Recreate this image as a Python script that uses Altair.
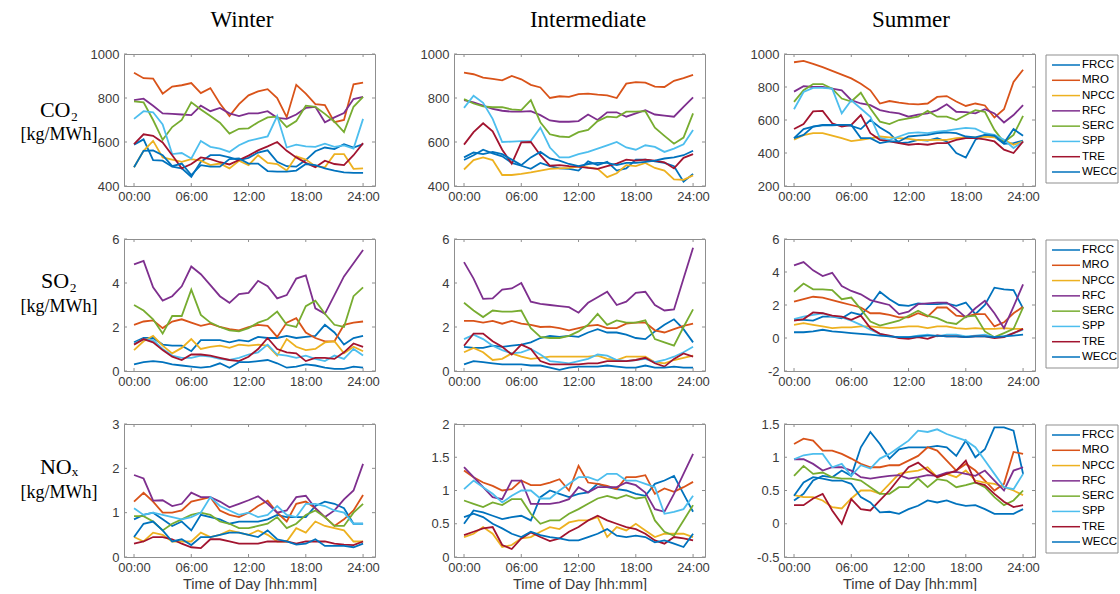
import altair as alt
import pandas as pd

# ---------------------------------------------------------------- data
REGIONS = ["FRCC", "MRO", "NPCC", "RFC", "SERC", "SPP", "TRE", "WECC"]
COLORS = ["#0072BD", "#D95319", "#EDB120", "#7E2F8E",
          "#77AC30", "#4DBEEE", "#A2142F", "#0072BD"]
HOURS = list(range(25))
TICK_HOURS = [0, 6, 12, 18, 24]
SEASONS = ["Winter", "Intermediate", "Summer"]
POLLUTANTS = ["CO₂", "SO₂", "NOₓ"]
UNIT = "[kg/MWh]"

CO2_WINTER = {
    "FRCC": [588, 612, 518, 515, 488, 480, 442, 510, 540, 540, 530, 518, 528, 552, 562, 510, 490, 488, 518, 558, 575, 568, 590, 575, 590],
    "MRO":  [915, 890, 888, 820, 852, 858, 868, 822, 845, 775, 718, 772, 812, 830, 840, 800, 713, 860, 820, 772, 768, 690, 700, 862, 870],
    "NPCC": [485, 560, 605, 530, 520, 510, 522, 515, 495, 502, 480, 515, 495, 540, 505, 500, 470, 535, 520, 490, 485, 545, 545, 478, 480],
    "RFC":  [790, 797, 765, 730, 728, 725, 722, 765, 740, 755, 730, 718, 730, 730, 740, 710, 705, 725, 755, 760, 690, 712, 732, 795, 805],
    "SERC": [785, 780, 700, 610, 668, 700, 780, 748, 718, 688, 638, 660, 662, 690, 712, 715, 668, 695, 765, 760, 728, 692, 645, 760, 805],
    "SPP":  [705, 740, 735, 680, 545, 550, 525, 605, 578, 570, 555, 585, 605, 615, 625, 718, 575, 588, 580, 578, 592, 578, 585, 570, 705],
    "TRE":  [590, 635, 628, 598, 540, 480, 500, 530, 522, 508, 498, 518, 538, 562, 580, 600, 560, 530, 505, 485, 515, 500, 495, 540, 595],
    "WECC": [485, 560, 562, 540, 490, 502, 450, 495, 488, 488, 522, 525, 502, 502, 468, 465, 465, 470, 500, 495, 480, 470, 462, 460, 460],
}
CO2_INTER = {
    "FRCC": [518, 540, 565, 548, 535, 505, 492, 478, 505, 490, 480, 478, 470, 512, 495, 510, 470, 480, 520, 520, 512, 505, 490, 420, 455],
    "MRO":  [915, 908, 893, 887, 880, 900, 885, 860, 848, 800, 808, 805, 818, 820, 815, 812, 800, 865, 872, 870, 852, 850, 878, 890, 905],
    "NPCC": [475, 518, 530, 518, 450, 450, 455, 462, 470, 478, 480, 482, 488, 485, 478, 440, 458, 495, 490, 505, 482, 470, 430, 428, 448],
    "RFC":  [790, 780, 765, 750, 742, 738, 738, 740, 722, 698, 692, 692, 695, 725, 700, 735, 735, 715, 730, 745, 725, 720, 715, 760, 803],
    "SERC": [795, 775, 762, 758, 758, 748, 745, 790, 690, 635, 625, 622, 645, 655, 695, 715, 712, 738, 738, 740, 665, 628, 592, 620, 730],
    "SPP":  [755, 810, 778, 705, 600, 602, 604, 605, 665, 575, 530, 530, 545, 555, 570, 585, 600, 575, 565, 585, 578, 555, 570, 590, 655],
    "TRE":  [588, 645, 685, 648, 565, 502, 598, 600, 540, 492, 495, 490, 488, 482, 478, 490, 502, 520, 515, 520, 515, 508, 480, 528, 545],
    "WECC": [530, 552, 545, 555, 545, 520, 495, 530, 555, 525, 515, 500, 490, 500, 505, 505, 495, 505, 505, 510, 515, 525, 530, 540, 560],
}
CO2_SUMMER = {
    "FRCC": [490, 545, 560, 568, 568, 570, 565, 545, 600, 555, 520, 460, 465, 480, 475, 490, 470, 400, 372, 480, 510, 500, 455, 460, 475],
    "MRO":  [950, 958, 940, 920, 898, 875, 852, 820, 780, 700, 715, 705, 698, 695, 700, 740, 745, 712, 685, 700, 688, 615, 665, 830, 905],
    "NPCC": [480, 508, 520, 520, 505, 490, 472, 480, 488, 500, 495, 490, 485, 478, 478, 480, 480, 490, 495, 495, 500, 495, 480, 450, 470],
    "RFC":  [772, 805, 800, 800, 790, 780, 720, 700, 690, 660, 648, 640, 620, 632, 640, 660, 695, 650, 648, 640, 665, 640, 585, 630, 690],
    "SERC": [710, 780, 818, 818, 790, 730, 712, 765, 670, 590, 575, 600, 610, 620, 655, 620, 620, 600, 630, 660, 650, 540, 465, 510, 625],
    "SPP":  [665, 770, 795, 795, 790, 640, 720, 670, 620, 490, 480, 500, 520, 525, 520, 530, 535, 545, 552, 548, 520, 510, 480, 430, 470],
    "TRE":  [545, 575, 652, 655, 580, 560, 570, 630, 520, 480, 470, 460, 450, 455, 450, 460, 460, 480, 490, 490, 482, 470, 420, 400, 470],
    "WECC": [490, 510, 560, 570, 570, 570, 570, 490, 490, 460, 470, 470, 500, 505, 510, 520, 525, 520, 500, 495, 510, 505, 460, 545, 505],
}

SO2_WINTER = {
    "FRCC": [1.3, 1.5, 1.5, 1.2, 1.15, 1.15, 0.9, 1.4, 1.4, 1.4, 1.3, 1.4, 1.35, 1.55, 1.5, 1.5, 1.6, 1.5, 1.55, 1.6, 2.1, 1.75, 1.2, 1.5, 1.6],
    "MRO":  [2.1, 2.25, 2.3, 1.95, 2.25, 2.35, 2.2, 2.05, 2.15, 2.0, 1.9, 1.85, 2.0, 2.1, 2.05, 1.55, 2.2, 2.4, 1.75, 1.5, 1.35, 1.35, 2.1, 2.2, 2.25],
    "NPCC": [0.95, 1.35, 1.6, 1.15, 0.8, 1.05, 1.45, 1.0, 1.1, 1.15, 1.05, 1.2, 1.15, 1.2, 1.15, 0.7, 1.45, 1.1, 0.95, 1.0, 1.3, 1.35, 0.8, 1.1, 0.9],
    "RFC":  [4.85, 5.0, 3.8, 3.2, 3.4, 3.85, 4.75, 4.4, 3.9, 3.4, 3.1, 3.5, 3.55, 4.1, 3.85, 3.3, 3.45, 4.2, 4.35, 2.85, 2.6, 3.45, 4.3, 4.9, 5.5],
    "SERC": [3.0, 2.75, 2.35, 1.7, 2.5, 2.5, 3.7, 2.55, 2.2, 2.0, 1.85, 1.8, 1.95, 2.2, 2.35, 2.7, 2.1, 2.0, 2.95, 3.2, 2.6, 2.1, 2.0, 3.4, 3.8],
    "SPP":  [1.25, 1.45, 1.4, 1.0, 0.7, 0.6, 0.6, 0.7, 0.65, 0.55, 0.5, 0.6, 0.75, 0.85, 1.2, 0.75, 0.7, 0.6, 0.7, 0.55, 0.45, 0.7, 0.55, 1.0, 0.7],
    "TRE":  [1.2, 1.45, 1.3, 0.95, 0.65, 0.5, 0.75, 0.75, 0.7, 0.6, 0.5, 0.45, 0.65, 1.0, 1.5, 1.0, 0.85, 0.8, 0.45, 0.6, 0.6, 0.55, 0.85, 1.25, 1.1],
    "WECC": [0.3, 0.4, 0.45, 0.4, 0.3, 0.25, 0.2, 0.15, 0.2, 0.35, 0.15, 0.4, 0.4, 0.45, 0.5, 0.35, 0.15, 0.2, 0.3, 0.25, 0.15, 0.1, 0.1, 0.2, 0.15],
}
SO2_INTER = {
    "FRCC": [1.1, 1.05, 1.05, 1.15, 1.1, 1.15, 1.2, 1.3, 1.5, 1.6, 1.55, 1.6, 1.55, 1.75, 1.9, 1.75, 1.75, 1.65, 1.5, 1.45, 1.8, 2.1, 2.35, 1.9, 1.3],
    "MRO":  [2.28, 2.28, 2.2, 2.28, 2.15, 2.28, 2.15, 2.1, 2.0, 2.02, 1.95, 1.85, 1.95, 2.05, 2.1, 1.95, 1.95, 2.15, 2.2, 2.2, 1.85, 1.75, 1.9, 2.05, 2.15],
    "NPCC": [0.85, 1.05, 0.85, 0.5, 0.55, 0.8, 0.65, 0.55, 0.6, 0.65, 0.65, 0.65, 0.65, 0.65, 0.7, 0.55, 0.5, 0.65, 0.65, 0.65, 0.4, 0.35, 0.5, 0.6, 0.7],
    "RFC":  [4.95, 4.2, 3.28, 3.3, 3.7, 3.75, 4.0, 3.15, 3.05, 3.0, 2.95, 2.9, 2.65, 3.1, 3.35, 3.6, 3.0, 3.15, 3.55, 3.6, 3.0, 2.75, 2.8, 4.2, 5.6],
    "SERC": [3.1, 2.75, 2.45, 2.75, 2.7, 2.7, 2.75, 1.95, 1.55, 1.5, 1.5, 1.6, 1.8, 2.1, 2.6, 2.1, 2.3, 2.2, 2.2, 2.3, 1.45, 1.3, 1.15, 2.0, 2.8],
    "SPP":  [1.45, 1.65, 1.45, 1.15, 0.95, 0.8, 0.85, 1.0, 0.75, 0.45, 0.4, 0.35, 0.45, 0.55, 0.75, 0.7, 0.5, 0.45, 0.5, 0.55, 0.4, 0.5, 0.65, 0.85, 1.1],
    "TRE":  [1.15, 1.7, 1.7, 1.35, 1.1, 0.75, 1.2, 1.0, 0.45, 0.3, 0.3, 0.3, 0.3, 0.35, 0.35, 0.45, 0.45, 0.45, 0.5, 0.6, 0.35, 0.2, 0.55, 0.8, 0.65],
    "WECC": [0.3, 0.45, 0.4, 0.35, 0.3, 0.3, 0.3, 0.25, 0.25, 0.15, 0.05, 0.15, 0.2, 0.2, 0.2, 0.25, 0.2, 0.15, 0.15, 0.25, 0.15, 0.15, 0.2, 0.15, 0.15],
}
SO2_SUMMER = {
    "FRCC": [1.1, 1.1, 1.05, 1.3, 1.3, 1.2, 1.55, 1.4, 2.0, 2.8, 2.35, 2.0, 1.95, 2.1, 2.05, 2.05, 2.1, 1.95, 2.15, 1.45, 2.0, 3.05, 2.95, 2.9, 1.8],
    "MRO":  [2.2, 2.35, 2.5, 2.45, 2.3, 2.15, 2.0, 1.85, 1.5, 1.5, 1.4, 1.25, 1.25, 1.5, 1.3, 1.85, 1.85, 1.35, 1.3, 1.45, 1.45, 0.7, 0.95, 1.5, 1.9],
    "NPCC": [0.8, 0.9, 0.8, 0.7, 0.6, 0.65, 0.65, 0.7, 0.7, 0.65, 0.6, 0.65, 0.7, 0.7, 0.6, 0.7, 0.7, 0.6, 0.55, 0.6, 0.55, 0.55, 0.6, 0.55, 0.55],
    "RFC":  [4.4, 4.6, 4.1, 3.75, 3.95, 3.15, 2.85, 2.65, 2.3, 2.15, 2.0, 1.45, 1.6, 2.05, 2.1, 2.15, 2.15, 1.75, 1.25, 1.8, 2.25, 1.5, 0.6, 1.9, 3.25],
    "SERC": [2.8, 3.3, 2.95, 2.95, 2.9, 2.35, 2.45, 1.75, 1.0, 0.75, 0.9, 1.05, 1.35, 1.65, 1.35, 1.2, 0.95, 0.85, 1.3, 1.35, 0.4, 0.05, 0.3, 0.55, 1.85],
    "SPP":  [1.15, 1.3, 1.4, 1.5, 1.3, 1.25, 1.05, 0.8, 0.5, 0.25, 0.1, 0.05, 0.05, 0.15, 0.2, 0.1, 0.2, 0.2, 0.1, 0.15, 0.2, 0.05, 0.1, 0.3, 0.5],
    "TRE":  [1.05, 1.15, 1.55, 1.5, 1.35, 1.3, 1.1, 1.35, 0.6, 0.25, 0.15, 0.0, -0.05, 0.05, -0.05, 0.15, 0.1, 0.1, 0.05, 0.1, 0.1, 0.0, 0.05, 0.3, 0.55],
    "WECC": [0.35, 0.35, 0.4, 0.5, 0.4, 0.35, 0.3, 0.25, 0.2, 0.15, 0.1, 0.05, 0.05, 0.1, 0.15, 0.15, 0.1, 0.1, 0.05, 0.1, 0.1, 0.05, 0.1, 0.15, 0.2],
}

NOX_WINTER = {
    "FRCC": [0.85, 0.95, 1.0, 0.85, 0.7, 0.8, 0.6, 0.95, 0.9, 0.85, 0.75, 0.8, 0.8, 0.8, 0.85, 0.95, 0.9, 0.9, 0.9, 1.15, 1.25, 1.2, 1.1, 0.75, 0.75],
    "MRO":  [1.25, 1.45, 1.25, 1.0, 1.0, 1.05, 1.25, 1.3, 1.35, 1.05, 0.95, 0.9, 1.0, 1.15, 1.27, 1.0, 0.8, 1.2, 1.25, 1.1, 0.9, 0.7, 0.85, 1.05, 1.4],
    "NPCC": [0.45, 0.35, 0.55, 0.5, 0.35, 0.35, 0.35, 0.55, 0.45, 0.5, 0.6, 0.55, 0.5, 0.6, 0.5, 0.35, 0.35, 0.65, 0.55, 0.8, 0.7, 0.65, 0.6, 0.35, 0.35],
    "RFC":  [1.85, 1.77, 1.27, 1.28, 1.15, 1.2, 1.45, 1.35, 1.35, 1.25, 1.12, 1.2, 1.28, 1.37, 1.2, 1.0, 1.05, 1.35, 1.38, 1.1, 0.9, 1.05, 1.3, 1.5, 2.1],
    "SERC": [0.92, 0.92, 0.8, 0.6, 0.75, 0.85, 0.95, 1.0, 0.95, 0.8, 0.75, 0.65, 0.65, 0.7, 0.75, 0.9, 0.65, 0.75, 0.95, 1.05, 0.9, 0.7, 0.7, 1.0, 1.2],
    "SPP":  [1.1, 0.95, 1.0, 0.95, 0.9, 0.85, 0.9, 1.0, 1.35, 1.15, 1.05, 0.95, 1.0, 0.9, 0.95, 1.15, 0.95, 0.9, 1.2, 1.2, 1.15, 1.05, 1.0, 0.75, 0.75],
    "TRE":  [0.3, 0.35, 0.45, 0.45, 0.4, 0.3, 0.22, 0.2, 0.4, 0.4, 0.35, 0.3, 0.3, 0.3, 0.35, 0.35, 0.35, 0.3, 0.35, 0.35, 0.35, 0.3, 0.28, 0.27, 0.35],
    "WECC": [0.45, 0.75, 0.8, 0.6, 0.35, 0.4, 0.27, 0.45, 0.45, 0.5, 0.55, 0.55, 0.5, 0.45, 0.6, 0.4, 0.35, 0.28, 0.3, 0.4, 0.25, 0.25, 0.25, 0.22, 0.3],
}
NOX_INTER = {
    "FRCC": [0.5, 0.7, 0.67, 0.62, 0.57, 0.6, 0.62, 0.55, 0.9, 1.0, 0.95, 0.9, 0.95, 0.97, 1.1, 1.05, 1.02, 1.0, 0.95, 0.92, 1.1, 1.15, 1.22, 0.95, 0.68],
    "MRO":  [1.3, 1.2, 1.12, 1.07, 1.0, 1.02, 1.15, 1.08, 1.08, 1.12, 1.17, 1.0, 1.37, 1.12, 1.1, 1.07, 1.02, 1.2, 1.2, 1.23, 0.95, 1.03, 0.98, 1.05, 1.13],
    "NPCC": [0.3, 0.35, 0.45, 0.35, 0.15, 0.18, 0.28, 0.3, 0.38, 0.45, 0.42, 0.52, 0.55, 0.55, 0.6, 0.3, 0.45, 0.4, 0.5, 0.4, 0.3, 0.35, 0.35, 0.35, 0.3],
    "RFC":  [1.35, 1.2, 1.05, 0.9, 0.87, 1.15, 1.15, 0.8, 0.8, 0.8, 0.82, 0.87, 1.05, 0.97, 1.05, 1.05, 1.05, 1.12, 1.08, 0.97, 0.72, 0.68, 0.95, 1.25, 1.55],
    "SERC": [0.85, 0.8, 0.75, 0.82, 0.78, 0.87, 0.87, 0.65, 0.5, 0.55, 0.55, 0.65, 0.72, 0.8, 0.88, 0.92, 0.88, 0.93, 0.88, 0.9, 0.55, 0.38, 0.32, 0.55, 0.78],
    "SPP":  [1.02, 1.15, 1.05, 0.95, 0.82, 0.92, 1.0, 1.0, 0.88, 0.88, 1.0, 1.1, 1.2, 1.2, 1.15, 1.25, 1.25, 1.15, 1.15, 1.1, 1.05, 0.65, 0.68, 0.72, 0.92],
    "TRE":  [0.33, 0.38, 0.43, 0.45, 0.18, 0.12, 0.28, 0.37, 0.3, 0.24, 0.28, 0.38, 0.45, 0.55, 0.62, 0.55, 0.5, 0.45, 0.42, 0.35, 0.25, 0.2, 0.3, 0.28, 0.25],
    "WECC": [0.6, 0.65, 0.6, 0.5, 0.43, 0.35, 0.3, 0.38, 0.33, 0.3, 0.28, 0.25, 0.25, 0.3, 0.35, 0.42, 0.32, 0.3, 0.32, 0.3, 0.22, 0.25, 0.2, 0.15, 0.35],
}
NOX_SUMMER = {
    "FRCC": [0.35, 0.45, 0.65, 0.72, 0.7, 0.8, 0.72, 1.15, 1.38, 1.2, 0.98, 1.12, 1.15, 1.15, 1.15, 1.17, 1.15, 1.02, 1.25, 1.0, 1.12, 1.45, 1.45, 1.4, 0.75],
    "MRO":  [1.2, 1.28, 1.25, 1.1, 1.1, 1.05, 0.98, 0.9, 0.85, 0.85, 0.88, 0.88, 0.95, 1.02, 1.15, 1.1, 0.95, 0.8, 0.9, 0.8, 0.65, 0.5, 0.6, 1.08, 1.05],
    "NPCC": [0.43, 0.4, 0.4, 0.35, 0.25, 0.23, 0.38, 0.5, 0.5, 0.45, 0.6, 0.75, 0.78, 0.8, 0.85, 0.7, 0.75, 0.7, 0.8, 0.65, 0.62, 0.6, 0.55, 0.5, 0.43],
    "RFC":  [0.97, 0.97, 0.9, 0.8, 0.85, 0.85, 0.8, 0.7, 0.68, 0.7, 0.72, 0.73, 0.68, 0.7, 0.73, 0.72, 0.77, 0.78, 0.75, 0.72, 0.8, 0.65, 0.5, 0.8, 0.85],
    "SERC": [0.72, 0.87, 0.75, 0.77, 0.7, 0.68, 0.68, 0.65, 0.55, 0.45, 0.45, 0.55, 0.55, 0.68, 0.55, 0.67, 0.65, 0.55, 0.58, 0.62, 0.55, 0.4, 0.28, 0.35, 0.5],
    "SPP":  [0.97, 1.03, 1.05, 1.05, 0.85, 0.9, 0.72, 0.88, 0.83, 0.98, 1.05, 1.15, 1.25, 1.4, 1.38, 1.42, 1.35, 1.3, 1.25, 1.15, 0.95, 0.75, 0.55, 0.52, 0.75],
    "TRE":  [0.28, 0.28, 0.38, 0.45, 0.2, 0.0, 0.37, 0.22, 0.2, 0.35, 0.5, 0.68, 0.85, 0.92, 0.8, 0.7, 0.75, 0.8, 0.95, 0.62, 0.58, 0.45, 0.33, 0.25, 0.28],
    "WECC": [0.42, 0.62, 0.7, 0.68, 0.65, 0.65, 0.6, 0.4, 0.32, 0.17, 0.18, 0.15, 0.22, 0.27, 0.35, 0.32, 0.35, 0.3, 0.27, 0.28, 0.22, 0.15, 0.15, 0.15, 0.22],
}

GRID = [
    [CO2_WINTER, CO2_INTER, CO2_SUMMER],
    [SO2_WINTER, SO2_INTER, SO2_SUMMER],
    [NOX_WINTER, NOX_INTER, NOX_SUMMER],
]
Y_TICKS = [
    [[400, 600, 800, 1000], [400, 600, 800, 1000], [200, 400, 600, 800, 1000]],
    [[0, 2, 4, 6], [0, 2, 4, 6], [-2, 0, 2, 4, 6]],
    [[0, 1, 2, 3], [0, 0.5, 1, 1.5, 2], [-0.5, 0, 0.5, 1, 1.5]],
]

# ---------------------------------------------------------------- style
SANS = "Liberation Sans"
SERIF = "Liberation Serif, DejaVu Serif, serif"
INK = "#3a3a3a"
FRAME = "#8f8f8f"
PANEL_W = 251
ROW_H = [132, 132, 133]
X_DOMAIN = [-1.05, 25.25]
TICK_LEN = 3
CAPTION_W = 45          # first grid column (row captions)
LEGEND_W = 4            # last grid column; the box reaches back towards the panel
LEGEND_BOX = (-68, 4)   # box left/right inside the legend column
COL_GAP = 79
ROW_GAP = 53
TITLE_DX = [-7.5, 8.5, 1.5]
TITLE_BASE = 27          # baseline of the season titles below the top edge
CAPTION_X = 59
# (name y, unit y) of the row captions, measured from the row's top edge
CAPTION_Y = [(56, 81), (42, 68), (43, 69)]

color_scale = alt.Scale(domain=REGIONS, range=COLORS)
one_row = pd.DataFrame({"k": [0]})


def long_table(series):
    rows = []
    for region in REGIONS:
        for h, v in zip(HOURS, series[region]):
            rows.append({"region": region, "hour": h, "value": v})
    return pd.DataFrame(rows)


def panel(series, yticks, height, bottom=False):
    x_axis_kw = dict(
        values=TICK_HOURS,
        labelExpr="(datum.value < 10 ? '0' : '') + datum.value + ':00'",
        domain=False, ticks=False, grid=False,
        labelPadding=4, labelFontSize=13, labelColor=INK, labelFont=SANS,
    )
    if bottom:
        x_axis_kw.update(title="Time of Day [hh:mm]", titleFont=SANS,
                         titleFontSize=14.5, titleFontWeight="normal",
                         titleColor=INK, titlePadding=3)
    else:
        x_axis_kw.update(title=None)

    x_enc = alt.X("hour:Q",
                  scale=alt.Scale(domain=X_DOMAIN, nice=False, zero=False),
                  axis=alt.Axis(**x_axis_kw))
    y_enc = alt.Y("value:Q",
                  scale=alt.Scale(domain=[yticks[0], yticks[-1]], nice=False, zero=False),
                  axis=alt.Axis(values=yticks, labelExpr="datum.value + ''",
                                domain=False, ticks=False, grid=False,
                                labelPadding=5, labelFontSize=13,
                                labelColor=INK, labelFont=SANS, title=None))

    lines = alt.Chart(long_table(series)).mark_line(
        strokeWidth=1.8, clip=True
    ).encode(
        x=x_enc, y=y_enc,
        color=alt.Color("region:N", scale=color_scale, legend=None),
    )

    # short inward ticks on all four sides of the box
    xt = alt.Chart(pd.DataFrame({"hour": TICK_HOURS}))
    yt = alt.Chart(pd.DataFrame({"value": yticks}))
    rule = dict(color=FRAME, strokeWidth=1)
    ticks = [
        xt.mark_rule(**rule).encode(x=x_enc, y=alt.value(0), y2=alt.value(TICK_LEN)),
        xt.mark_rule(**rule).encode(x=x_enc, y=alt.value(height - TICK_LEN), y2=alt.value(height)),
        yt.mark_rule(**rule).encode(y=y_enc, x=alt.value(0), x2=alt.value(TICK_LEN)),
        yt.mark_rule(**rule).encode(y=y_enc, x=alt.value(PANEL_W - TICK_LEN), x2=alt.value(PANEL_W)),
    ]
    return alt.layer(lines, *ticks).properties(
        width=PANEL_W, height=height,
        view=alt.ViewBackground(stroke=FRAME, strokeWidth=1))


def corner():
    # a transparent 1x1 rect pins the top-left corner of the layout at (0, 0)
    return alt.Chart(one_row).mark_rect(opacity=0).encode(
        x=alt.value(0), x2=alt.value(1), y=alt.value(0), y2=alt.value(1)
    ).properties(width=CAPTION_W, height=1)


def season_title(text, dx):
    return alt.Chart(pd.DataFrame({"t": [text]})).mark_text(
        font=SERIF, fontSize=23, color="black", align="center", baseline="alphabetic"
    ).encode(text="t:N", x=alt.value(PANEL_W / 2 + dx), y=alt.value(TITLE_BASE)
    ).properties(width=PANEL_W, height=1)


def blank(width):
    return alt.Chart(one_row).mark_rect(opacity=0).encode(
        x=alt.value(0), x2=alt.value(1), y=alt.value(0), y2=alt.value(1)
    ).properties(width=width, height=1)


def caption(name, name_y, unit_y, height):
    big = alt.Chart(pd.DataFrame({"t": [name]})).mark_text(
        font=SERIF, fontSize=22, color="black", align="center", baseline="middle"
    ).encode(text="t:N", x=alt.value(CAPTION_X), y=alt.value(name_y))
    small = alt.Chart(pd.DataFrame({"t": [UNIT]})).mark_text(
        font=SERIF, fontSize=18, color="black", align="center", baseline="middle"
    ).encode(text="t:N", x=alt.value(CAPTION_X), y=alt.value(unit_y))
    return alt.layer(big, small).properties(width=CAPTION_W, height=height)


def legend_box(height):
    names = pd.DataFrame({"region": REGIONS})
    left, right = LEGEND_BOX
    ypos = alt.Y("region:N", axis=None,
                 scale=alt.Scale(type="point", domain=REGIONS,
                                 range=[11, 118], padding=0))
    box = alt.Chart(one_row).mark_rect(
        filled=False, stroke=FRAME, strokeWidth=1
    ).encode(x=alt.value(left), x2=alt.value(right),
             y=alt.value(1), y2=alt.value(129))
    swatch = alt.Chart(names).mark_rule(strokeWidth=1.5).encode(
        x=alt.value(left + 6), x2=alt.value(left + 34), y=ypos,
        color=alt.Color("region:N", scale=color_scale, legend=None))
    label = alt.Chart(names).mark_text(
        align="left", baseline="middle", font=SANS, fontSize=11.5, color="black"
    ).encode(x=alt.value(left + 36), y=ypos, text="region:N")
    return alt.layer(box, swatch, label).properties(width=LEGEND_W, height=height)


cells = [corner()]
cells += [season_title(SEASONS[c], TITLE_DX[c]) for c in range(3)]
cells.append(blank(LEGEND_W))
for r in range(3):
    h = ROW_H[r]
    cells.append(caption(POLLUTANTS[r], CAPTION_Y[r][0], CAPTION_Y[r][1], h))
    for c in range(3):
        cells.append(panel(GRID[r][c], Y_TICKS[r][c], h, bottom=(r == 2)))
    cells.append(legend_box(h))

chart = alt.concat(
    *cells, columns=5, spacing={"row": ROW_GAP, "column": COL_GAP}, bounds="flush"
).properties(
    padding=0, background="white"
).configure_view(
    stroke=None
)

chart.save("out.html", embed_options={"renderer": "svg", "actions": False})
